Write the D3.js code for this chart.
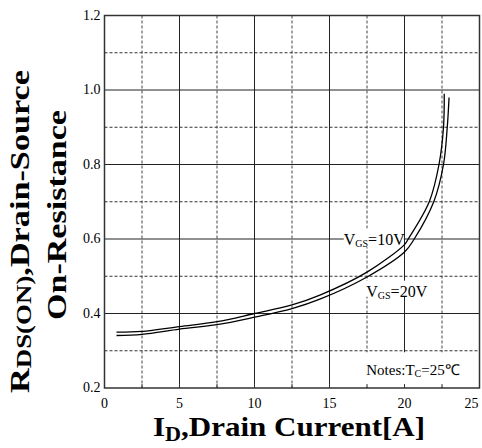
<!DOCTYPE html>
<html>
<head>
<meta charset="utf-8">
<script src="https://cdn.jsdelivr.net/npm/d3@7"></script>
<style>
  body { margin: 0; background: #fff; }
  svg { display: block; }
  text { font-family: "Liberation Serif", "Times New Roman", serif; }
</style>
</head>
<body>
<div id="chart"></div>
<script>
// values
var xTicks = [0, 5, 10, 15, 20, 25];
var yTicks = [0.2, 0.4, 0.6, 0.8, 1.0, 1.2];
var xMinor = [2.5, 7.5, 12.5, 17.5, 22.5];
var yMinor = [0.3, 0.5, 0.7, 0.9, 1.1];

var id10 = [0.8, 2.5, 5, 7.5, 10, 12.5, 14.4, 17.5, 20, 20.25, 21.65, 22.3, 22.6, 22.65];
var r10  = [0.350, 0.352, 0.365, 0.378, 0.400, 0.423, 0.450, 0.511, 0.585, 0.600, 0.700, 0.800, 0.900, 0.990];
var id20 = [0.8, 2.5, 5, 7.5, 10, 12.5, 14.4, 17.5, 20, 20.65, 21.95, 22.6, 22.85, 22.97];
var r20  = [0.341, 0.344, 0.358, 0.370, 0.390, 0.413, 0.439, 0.498, 0.565, 0.600, 0.700, 0.800, 0.900, 0.980];

var W = 482, H = 448;
var margin = {left: 104.5, top: 15.5, right: 3, bottom: 60};
var pw = 375, ph = 372.5;
var FONT = '"Liberation Serif", "Times New Roman", serif';

var svg = d3.select('#chart').append('svg')
    .attr('width', W).attr('height', H)
    .attr('font-family', FONT);

var g = svg.append('g').attr('transform', 'translate(' + margin.left + ',' + margin.top + ')');

var x = d3.scaleLinear().domain([0, 25]).range([0, pw]);
var y = d3.scaleLinear().domain([0.2, 1.2]).range([ph, 0]);

// grid
var grid = g.append('g');
grid.selectAll('.vmin').data(xMinor).enter().append('line')
    .attr('x1', function(d){return x(d)}).attr('x2', function(d){return x(d)})
    .attr('y1', 0).attr('y2', ph)
    .attr('stroke', '#444').attr('stroke-width', 1).attr('stroke-dasharray', '3,2');
grid.selectAll('.hmin').data(yMinor).enter().append('line')
    .attr('y1', function(d){return y(d)}).attr('y2', function(d){return y(d)})
    .attr('x1', 0).attr('x2', pw)
    .attr('stroke', '#333').attr('stroke-width', 1).attr('stroke-dasharray', '3,2');
grid.selectAll('.vmaj').data(xTicks.slice(1, -1)).enter().append('line')
    .attr('x1', function(d){return x(d)}).attr('x2', function(d){return x(d)})
    .attr('y1', 0).attr('y2', ph)
    .attr('stroke', '#222').attr('stroke-width', 1);
grid.selectAll('.hmaj').data(yTicks.slice(1, -1)).enter().append('line')
    .attr('y1', function(d){return y(d)}).attr('y2', function(d){return y(d)})
    .attr('x1', 0).attr('x2', pw)
    .attr('stroke', '#222').attr('stroke-width', 1);

// white boxes behind the labels
function box(x0, y0, x1, y1){
    g.append('rect')
        .attr('x', x(x0)).attr('y', y(y1))
        .attr('width', x(x1) - x(x0)).attr('height', y(y0) - y(y1))
        .attr('fill', '#fff');
}
box(15.95, 0.578, 19.95, 0.628);
box(17.4, 0.445, 21.05, 0.488);
box(15.8, 0.204, 24.9, 0.296);

// curves
var line = d3.line()
    .x(function(d){return x(d[0])})
    .y(function(d){return y(d[1])})
    .curve(d3.curveCatmullRom.alpha(0.5));

var s10 = d3.zip(id10, r10);
var s20 = d3.zip(id20, r20);
g.append('path').attr('d', line(s10)).attr('fill', 'none').attr('stroke', '#000').attr('stroke-width', 1.3);
g.append('path').attr('d', line(s20)).attr('fill', 'none').attr('stroke', '#000').attr('stroke-width', 1.3);

// frame
g.append('rect').attr('x', 0).attr('y', 0).attr('width', pw).attr('height', ph)
    .attr('fill', 'none').attr('stroke', '#333').attr('stroke-width', 1.5);

// bottom inner ticks
g.selectAll('.bt').data(xMinor.concat(xTicks.slice(1, -1))).enter().append('line')
    .attr('x1', function(d){return x(d)}).attr('x2', function(d){return x(d)})
    .attr('y1', ph).attr('y2', ph - 4)
    .attr('stroke', '#333').attr('stroke-width', 1);

// tick labels
g.selectAll('.xl').data(xTicks).enter().append('text')
    .attr('x', function(d){return Math.min(x(d), pw - 8)}).attr('y', ph + 20)
    .attr('text-anchor', 'middle').attr('font-size', 14)
    .text(function(d){return d});
g.selectAll('.yl').data(yTicks).enter().append('text')
    .attr('x', -4).attr('y', function(d){return y(d) + 4})
    .attr('text-anchor', 'end').attr('font-size', 14)
    .text(function(d){return d3.format('.1f')(d)});

// annotations
var a10 = g.append('text').attr('x', x(15.95)).attr('y', y(0.6) + 6).attr('font-size', 16);
a10.append('tspan').text('V');
a10.append('tspan').attr('font-size', 10).attr('dy', 2).text('GS');
a10.append('tspan').attr('dy', -2).text('=10V');

var a20 = g.append('text').attr('x', x(17.45)).attr('y', y(0.46) + 6).attr('font-size', 16);
a20.append('tspan').text('V');
a20.append('tspan').attr('font-size', 10).attr('dy', 2).text('GS');
a20.append('tspan').attr('dy', -2).text('=20V');

var nt = g.append('text').attr('x', x(17.45)).attr('y', y(0.25) + 6).attr('font-size', 15);
nt.append('tspan').text('Notes:T');
nt.append('tspan').attr('font-size', 10).attr('dy', 2).text('C');
nt.append('tspan').attr('dy', -2).text('=25℃');

// axis titles (stretched a little wider, like the original)
var xt = svg.append('text').attr('x', 153).attr('y', 436)
    .attr('font-size', 28).attr('font-weight', 'bold')
    .attr('textLength', 272).attr('lengthAdjust', 'spacingAndGlyphs');
xt.append('tspan').text('I');
xt.append('tspan').attr('font-size', 20).attr('dy', 5).text('D');
xt.append('tspan').attr('dy', -5).text(',Drain Current[A]');

var yt1 = svg.append('text').attr('transform', 'translate(29,393) rotate(-90)')
    .attr('font-size', 28).attr('font-weight', 'bold')
    .attr('textLength', 323).attr('lengthAdjust', 'spacingAndGlyphs');
yt1.append('tspan').text('R');
yt1.append('tspan').attr('font-size', 22).attr('dy', 2).text('DS(ON)');
yt1.append('tspan').attr('dy', -2).text(',Drain-Source');

svg.append('text').attr('transform', 'translate(66,320) rotate(-90)')
    .attr('font-size', 28).attr('font-weight', 'bold')
    .attr('textLength', 210).attr('lengthAdjust', 'spacingAndGlyphs')
    .text('On-Resistance');
</script>
</body>
</html>
